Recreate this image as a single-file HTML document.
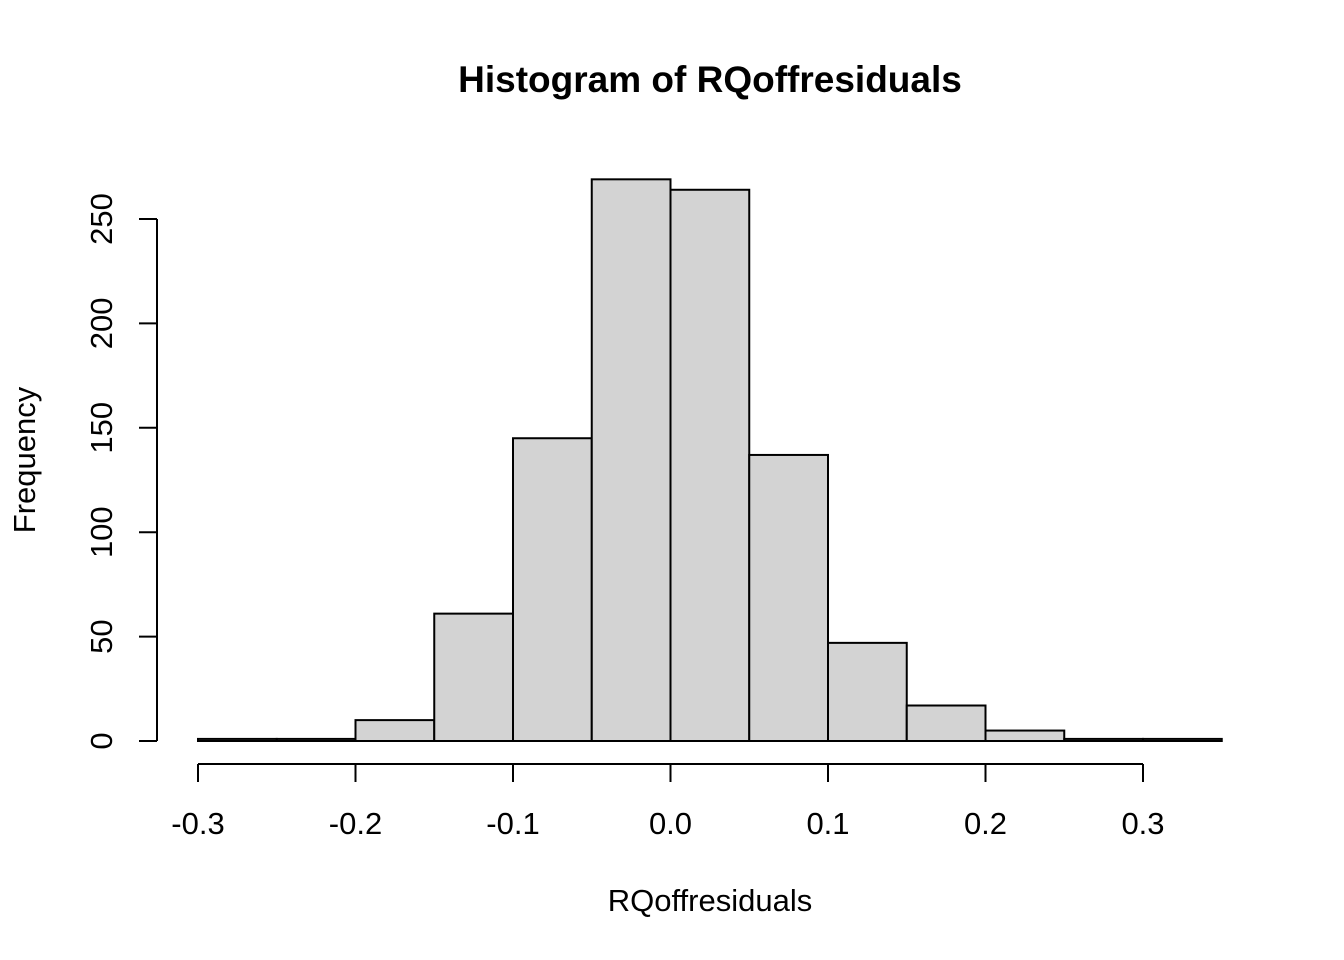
<!DOCTYPE html>
<html><head><meta charset="utf-8"><style>
html,body{margin:0;padding:0;background:#fff;}
svg{display:block;font-family:"Liberation Sans",Arial,sans-serif;}
</style></head><body>
<svg id="chart" width="1344" height="960" viewBox="0 0 1344 960">
<rect width="1344" height="960" fill="#fff"/>
<text x="710" y="92" text-anchor="middle" font-size="37" font-weight="bold">Histogram of RQoffresiduals</text>
<text x="710" y="911" text-anchor="middle" font-size="31">RQoffresiduals</text>
<text transform="translate(35,460) rotate(-90)" text-anchor="middle" font-size="31">Frequency</text>
<g id="bars"></g><g id="xaxis"></g><g id="yaxis"></g>
</svg>
<script>
const binStarts=[-0.30,-0.25,-0.20,-0.15,-0.10,-0.05,0.00,0.05,0.10,0.15,0.20,0.25,0.30];
const counts=[1,1,10,61,145,269,264,137,47,17,5,1,1];
const binWidth=0.05;
const xTicks=[-0.3,-0.2,-0.1,0.0,0.1,0.2,0.3];
const xTickLabels=["-0.3","-0.2","-0.1","0.0","0.1","0.2","0.3"];
const yTicks=[0,50,100,150,200,250];
const NS="http://www.w3.org/2000/svg";
const xs=v=>670.5+(v)*1575;
const ys=v=>741-v*2.088;
function mk(tag,attrs,parent){const e=document.createElementNS(NS,tag);for(const k in attrs)e.setAttribute(k,attrs[k]);parent.appendChild(e);return e;}
const bars=document.getElementById('bars');
binStarts.forEach((b,i)=>{
  const x0=xs(b),x1=xs(b+binWidth),y=ys(counts[i]);
  const r=mk('rect',{x:x0,y:y,width:x1-x0,height:ys(0)-y,fill:'#d3d3d3',stroke:'#000','stroke-width':2},bars);
  
  
});
const xa=document.getElementById('xaxis');
const xl=mk('line',{x1:xs(xTicks[0]),x2:xs(xTicks[xTicks.length-1]),y1:764,y2:764,stroke:'#000','stroke-width':2},xa);


xTicks.forEach((t,i)=>{
  const l=mk('line',{x1:xs(t),x2:xs(t),y1:764,y2:782,stroke:'#000','stroke-width':2},xa);
  
  
  const tx=mk('text',{x:xs(t),y:834,'text-anchor':'middle','font-size':31},xa);
  tx.textContent=xTickLabels[i];
  
  
});
const ya=document.getElementById('yaxis');
const yl=mk('line',{x1:157,x2:157,y1:ys(yTicks[0]),y2:ys(yTicks[yTicks.length-1]),stroke:'#000','stroke-width':2},ya);


yTicks.forEach(t=>{
  const l=mk('line',{x1:139,x2:157,y1:ys(t),y2:ys(t),stroke:'#000','stroke-width':2},ya);
  
  
  const tx=mk('text',{transform:'translate(112,'+ys(t)+') rotate(-90)','text-anchor':'middle','font-size':31},ya);
  tx.textContent=String(t);
  
  
});
</script>
</body></html>
